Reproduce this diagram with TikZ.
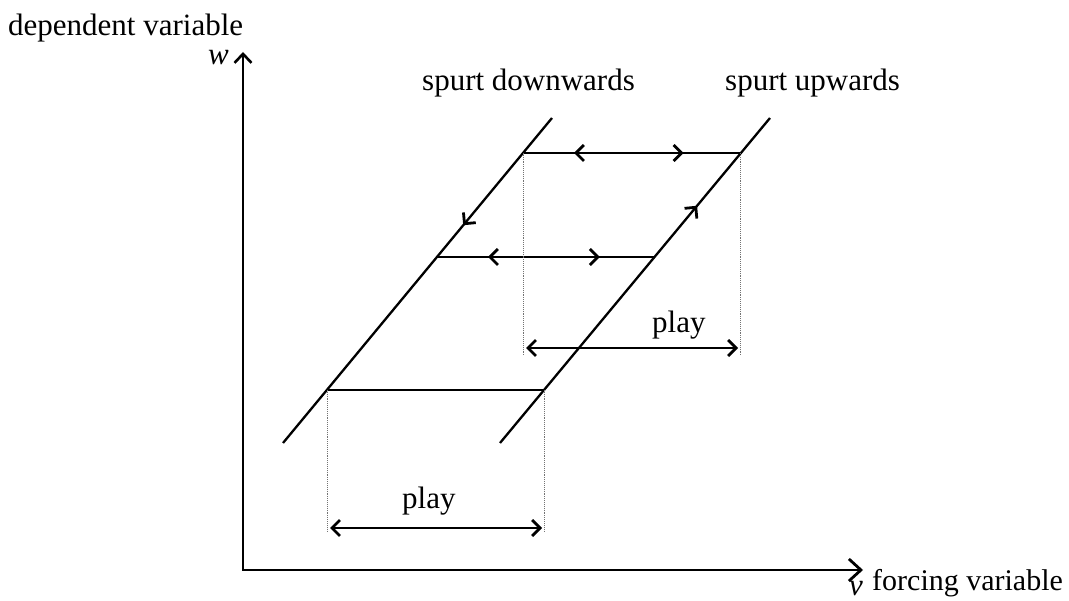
\documentclass[tikz,border=0pt]{standalone}
\usepackage{fontspec}
\setmainfont{Liberation Serif}
\usetikzlibrary{arrows.meta,decorations.markings}
\tikzset{chev/.tip={Straight Barb[length=8pt,width=16pt,line width'=2.8pt]}}
\begin{document}
\begin{tikzpicture}[x=1pt,y=-1pt,
  lbl/.style={anchor=base west,inner sep=0pt,font=\fontsize{31}{36}\selectfont},
  axis/.style={line width=2.5pt,line join=miter},
  branch/.style={line width=2.3pt},
  level/.style={line width=2.3pt},
  guide/.style={line width=0.9pt,densely dotted,black!55},
  playarrow/.style={line width=2.3pt,chev-chev},
  mark2/.style 2 args={postaction={decorate},decoration={markings,
     mark=at position #1 with {\arrowreversed{chev}},
     mark=at position #2 with {\arrow{chev}}}},
  mark1/.style={postaction={decorate},decoration={markings,
     mark=at position #1 with {\arrow{chev}}}}
]
\useasboundingbox (0,0) rectangle (1069,601);
% axes
\coordinate (Ytop) at (243,52);
\coordinate (O) at (243,570);
\coordinate (Xend) at (863,570);
\draw[axis,{Straight Barb[length=9pt,width=17pt,line width'=2.6pt]}-{Straight Barb[length=12pt,width=22pt,line width'=2.8pt]}] (Ytop) -- (O) -- (Xend);
% branches
\coordinate (L2) at (552,118);
\coordinate (L1) at (283,443);
\coordinate (R1) at (500,443);
\coordinate (R2) at (770,118);
\draw[branch,mark1=0.33] (L2) -- (L1);
\draw[branch,mark1=0.73] (R1) -- (R2);
% levels
\coordinate (A) at (523,153);
\coordinate (B) at (740,153);
\coordinate (C) at (437,257);
\coordinate (D) at (654,257);
\coordinate (E) at (327,390);
\coordinate (F) at (544,390);
\draw[level,mark2={0.235}{0.74}] (A) -- (B);
\draw[level,mark2={0.235}{0.75}] (C) -- (D);
\draw[level] (E) -- (F);
% guides
\coordinate (Ad) at (523,356);
\coordinate (Bd) at (740,356);
\coordinate (Ed) at (327,532);
\coordinate (Fd) at (544,532);
\draw[guide] (A) -- (Ad);
\draw[guide] (B) -- (Bd);
\draw[guide] (E) -- (Ed);
\draw[guide] (F) -- (Fd);
% play arrows
\coordinate (P1a) at (526,348);
\coordinate (P1b) at (738,348);
\coordinate (P2a) at (330,528);
\coordinate (P2b) at (542,528);
\draw[playarrow] (P1a) -- (P1b);
\draw[playarrow] (P2a) -- (P2b);
% labels
\node[lbl] (dep) at (8,36) {dependent variable};
\node[lbl] (w) at (208,65) {\textit{w}};
\node[lbl] (sd) at (422,91) {spurt downwards};
\node[lbl] (su) at (725,91) {spurt upwards};
\node[lbl] (play1) at (652,333) {play};
\node[lbl] (play2) at (402,508) {play};
\node[lbl,font=\fontsize{30}{36}\selectfont] (forc) at (872,590) {forcing variable};
\node[lbl] (v) at (849,595.5) {\textit{v}};
\end{tikzpicture}
\end{document}
